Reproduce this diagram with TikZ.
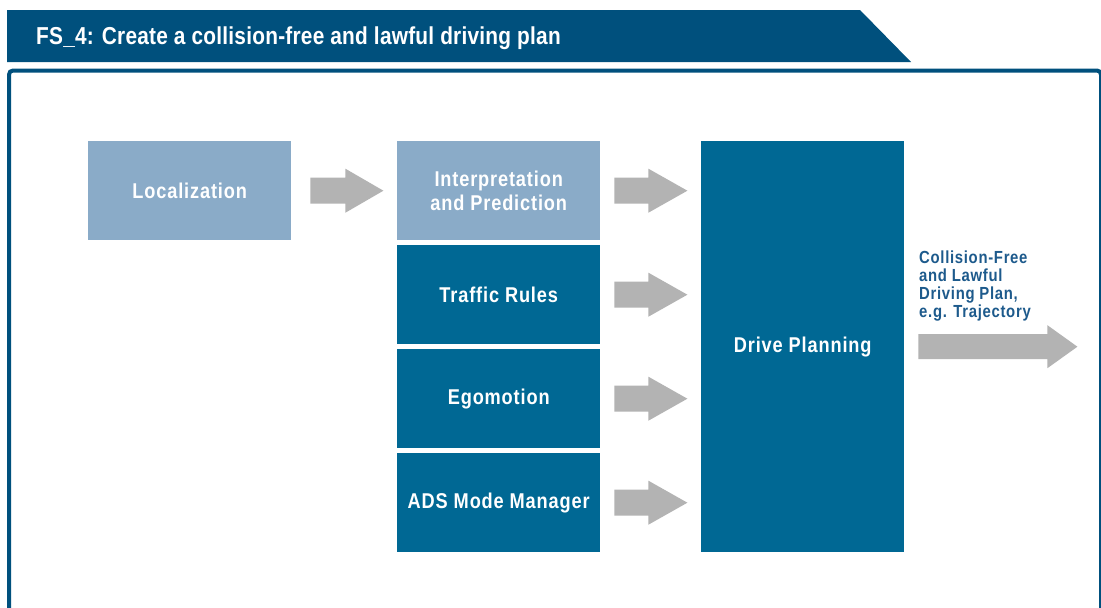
\documentclass[tikz,border=0pt]{standalone}
\usepackage{fontspec}
\setmainfont{Liberation Sans}
\newfontfamily\condfont{Liberation Sans}[FakeStretch=0.85,LetterSpace=4]
\newfontfamily\titlefont{Liberation Sans}[FakeStretch=0.85,LetterSpace=1]
\usetikzlibrary{calc}
\definecolor{hdrblue}{HTML}{00507D}
\definecolor{darkbox}{HTML}{006894}
\definecolor{lightbox}{HTML}{8AABC8}
\definecolor{arrgray}{HTML}{B3B3B3}
\definecolor{outblue}{HTML}{1D5A8C}
\newcommand\grayarrow[5]{%
  % #1 start coordinate, #2 body length, #3 head length, #4 body half height, #5 head half height
  \fill[arrgray] #1 ++(0,-#4) -- ++(#2,0) -- ++(0,{-(#5-#4)}) -- ++(#3,#5) -- ++(-#3,#5) -- ++(0,{-(#5-#4)}) -- ++(-#2,0) -- cycle;}
\begin{document}
\begin{tikzpicture}[x=1pt,y=-1pt,
  box/.style={rectangle, inner sep=0pt, anchor=north west, minimum width=203pt, minimum height=99pt,
    text=white, font=\condfont\bfseries\fontsize{21.4}{24}\selectfont, align=center},
  lbox/.style={box, fill=lightbox},
  dbox/.style={box, fill=darkbox}]
\useasboundingbox (0,0) rectangle (1101,608);
\fill[white] (0,0) rectangle (1101,608);
% header banner
\fill[hdrblue] (7,10) -- (860,10) -- (911,62) -- (7,62) -- cycle;
\node[anchor=base west, inner sep=0pt, text=white, font=\titlefont\bfseries\fontsize{24.5}{28}\selectfont] (title) at (36,44) {FS\_4: Create a collision-free and lawful driving plan};
% frame
\draw[hdrblue, line width=4pt, rounded corners=4pt] (9,640) -- (9,70.5) -- (1101,70.5) -- (1101,640);
% boxes
\node[lbox] (loc) at (88,141) {Localization};
\node[lbox] (interp) at (397,141) {Interpretation\\and Prediction};
\node[dbox] (traffic) at (397,245) {Traffic Rules};
\node[dbox] (ego) at (397,349) {Egomotion};
\node[dbox] (ads) at (397,453) {ADS Mode Manager};
\node[dbox, minimum height=411pt] (drive) at (701,141) {Drive Planning};
% arrows
\grayarrow{($(loc.east)+(19,0)$)}{35}{38}{13}{22}
\grayarrow{($(interp.east)+(14,0)$)}{34}{39}{13}{22}
\grayarrow{($(traffic.east)+(14,0)$)}{34}{39}{13}{22}
\grayarrow{($(ego.east)+(14,0)$)}{34}{39}{13}{22}
\grayarrow{($(ads.east)+(14,0)$)}{34}{39}{13}{22}
\grayarrow{($(drive.east)+(14,0)$)}{129}{30}{12.5}{21.5}
% output label
\node[anchor=north west, inner sep=0pt, align=left, text=outblue, font=\condfont\bfseries\fontsize{17.5}{17.9}\selectfont] (out) at (919,251) {Collision-Free\\and Lawful\\Driving Plan,\\e.g. Trajectory};
\end{tikzpicture}
\end{document}
